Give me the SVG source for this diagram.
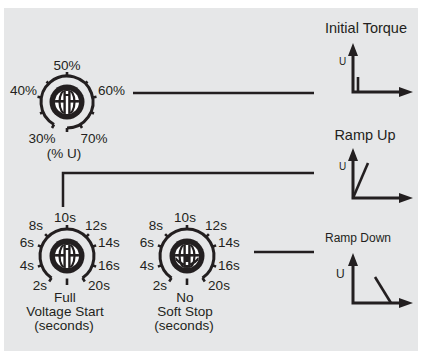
<svg xmlns="http://www.w3.org/2000/svg" width="422" height="355" viewBox="0 0 422 355">
<style>
text{font-family:"Liberation Sans","DejaVu Sans",sans-serif;fill:#231f20;}
.k{font-size:13.5px;}
.t{font-size:14.5px;}
.c{text-anchor:middle;}
.e{text-anchor:end;}
.ln{stroke:#231f20;stroke-width:2.5;fill:none;}
.ring{stroke:#231f20;stroke-width:3;fill:none;}
.tick{stroke:#231f20;stroke-width:2.6;fill:none;}
.ax{stroke:#231f20;stroke-width:3;fill:none;}
</style>
<defs>
<clipPath id="cp"><circle cx="0" cy="0" r="12"/></clipPath>
<g id="globe">
<circle r="17.5" fill="#231f20"/>
<circle r="12" fill="#fff"/>
<g clip-path="url(#cp)">
<ellipse rx="7.5" ry="13" fill="none" stroke="#231f20" stroke-width="2.2"/>
<rect x="-13" y="-2" width="26" height="2.6" fill="#231f20"/>
<rect x="-3.6" y="-13" width="7.2" height="26" fill="#231f20"/>
<rect x="-1.2" y="-6" width="2.4" height="19" fill="#fff"/>
<rect x="-1.2" y="-11" width="2.4" height="3" fill="#fff"/>
</g>
</g>
<g id="globe2">
<circle r="17.5" fill="#231f20"/>
<circle r="12" fill="#fff"/>
<g clip-path="url(#cp)">
<ellipse rx="7.5" ry="13" fill="none" stroke="#231f20" stroke-width="2.2"/>
<rect x="-13" y="-2" width="26" height="2.6" fill="#231f20"/>
<rect x="-3.6" y="-13" width="7.2" height="26" fill="#231f20"/>
<rect x="-1.2" y="-11" width="2.4" height="9" fill="#fff"/>
<path d="M-12,2 Q0,16 12,2" fill="none" stroke="#231f20" stroke-width="2.4"/>
<rect x="-1.2" y="6" width="2.4" height="3" fill="#fff"/>
</g>
</g>
<g id="ticks2">
<path class="ring" d="M-15.5,22.1 A27,27 0 1 1 15.5,22.1"/>
<path class="tick" d="M0,-27 V-31 M-19.1,-19.1 L-21.9,-21.9 M19.1,-19.1 L21.9,-21.9 M-25.4,-9.2 L-29.1,-10.6 M25.4,-9.2 L29.1,-10.6 M-25.4,9.2 L-29.1,10.6 M25.4,9.2 L29.1,10.6 M-15.5,22.1 L-17.8,25.4 M15.5,22.1 L17.8,25.4 M0,22.5 V29"/>
</g>
</defs>
<rect x="4" y="8" width="414" height="343" fill="#e6e7e8"/>
<g id="connectors">
<path class="ln" d="M133,93 H314"/>
<path class="ln" d="M63,207 V173 H314"/>
<path class="ln" d="M254,252 H314"/>
</g>
<g id="knob-initial">
<path class="ring" d="M54,124.5 A26,26 0 1 1 67,128"/>
<path class="tick" d="M67,76 V72 M48.6,83.6 L46.5,81.5 M85.4,83.6 L87.5,81.5 M41.4,97.5 L37.5,96.8 M92.6,97.5 L96.5,96.8 M43.6,112 L40,113.5 M90.4,112 L94,113.5 M54,124.5 L52,128 M80,124.5 L82,128 M67,128 V132"/>
<use href="#globe" x="67" y="102"/>
<text class="k c" x="67" y="70">50%</text>
<text class="k e" x="37" y="95">40%</text>
<text class="k" x="98" y="95">60%</text>
<text class="k c" x="42" y="143">30%</text>
<text class="k c" x="94" y="143">70%</text>
<text class="k c" x="64" y="158">(% U)</text>
</g>
<g id="knob-ramp-up">
<use href="#ticks2" x="67" y="256"/>
<use href="#globe" x="67" y="256"/>
<text class="k c" x="65" y="222">10s</text>
<text class="k c" x="36" y="230">8s</text>
<text class="k c" x="96" y="230">12s</text>
<text class="k c" x="27" y="247">6s</text>
<text class="k" x="98" y="247">14s</text>
<text class="k c" x="27" y="270">4s</text>
<text class="k" x="98" y="270">16s</text>
<text class="k c" x="40" y="290">2s</text>
<text class="k c" x="99" y="290">20s</text>
<text class="k c" x="65" y="302">Full</text>
<text class="k c" x="65" y="316">Voltage Start</text>
<text class="k c" x="64" y="330">(seconds)</text>
</g>
<g id="knob-ramp-down">
<use href="#ticks2" x="187" y="256"/>
<use href="#globe2" x="187" y="256"/>
<text class="k c" x="185" y="222">10s</text>
<text class="k c" x="156" y="230">8s</text>
<text class="k c" x="216" y="230">12s</text>
<text class="k c" x="147" y="247">6s</text>
<text class="k" x="218" y="247">14s</text>
<text class="k c" x="147" y="270">4s</text>
<text class="k" x="218" y="270">16s</text>
<text class="k c" x="160" y="290">2s</text>
<text class="k c" x="219" y="290">20s</text>
<text class="k c" x="185" y="302">No</text>
<text class="k c" x="185" y="316">Soft Stop</text>
<text class="k c" x="184" y="330">(seconds)</text>
</g>
<g id="graph-initial-torque">
<text class="t c" x="366" y="33">Initial Torque</text>
<text x="339" y="65" style="font-size:10px">U</text>
<path class="ax" d="M353,55 V92 H400"/>
<path d="M353,43 L358,56 L348,56 Z M413,92 L399,87 L399,97 Z" fill="#231f20"/>
<path class="tick" d="M358,77 V92"/>
</g>
<g id="graph-ramp-up">
<text class="t c" x="365" y="140">Ramp Up</text>
<text x="339" y="170" style="font-size:10px">U</text>
<path class="ax" d="M353,160 V198 H400"/>
<path d="M353,148 L358,161 L348,161 Z M413,198 L399,193 L399,203 Z" fill="#231f20"/>
<path class="tick" d="M353,198 L368,163"/>
</g>
<g id="graph-ramp-down">
<text class="c" x="358" y="242" style="font-size:12px">Ramp Down</text>
<text x="336" y="278" style="font-size:12px">U</text>
<path class="ax" d="M353,265 V303 H400"/>
<path d="M353,253 L358,266 L348,266 Z M413,303 L399,298 L399,308 Z" fill="#231f20"/>
<path class="tick" d="M375,277 L391,303"/>
</g>
</svg>
